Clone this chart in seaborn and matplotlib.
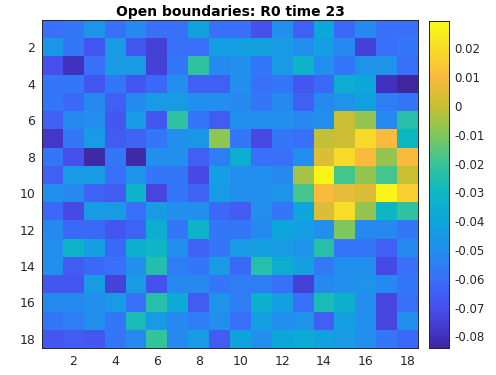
import numpy as np
import pandas as pd
import matplotlib
matplotlib.use("Agg")
import matplotlib.pyplot as plt
import seaborn as sns
from matplotlib.colors import LinearSegmentedColormap

title = "Open boundaries: R0 time 23"
rows = list(range(1, 19))
cols = list(range(1, 19))
tick_vals = [2, 4, 6, 8, 10, 12, 14, 16, 18]
cbar_ticks = [0.02, 0.01, 0.0, -0.01, -0.02, -0.03, -0.04, -0.05, -0.06, -0.07, -0.08]
vmin, vmax = -0.084, 0.0295

r01 = [-0.060, -0.058, -0.048, -0.060, -0.052, -0.060, -0.060, -0.042, -0.060, -0.060, -0.070, -0.050, -0.065, -0.040, -0.062, -0.052, -0.060, -0.060]
r02 = [-0.047, -0.058, -0.068, -0.045, -0.068, -0.075, -0.060, -0.060, -0.043, -0.043, -0.042, -0.045, -0.050, -0.043, -0.052, -0.075, -0.060, -0.058]
r03 = [-0.070, -0.080, -0.060, -0.045, -0.045, -0.075, -0.058, -0.022, -0.052, -0.050, -0.058, -0.045, -0.033, -0.050, -0.058, -0.048, -0.048, -0.060]
r04 = [-0.058, -0.058, -0.068, -0.058, -0.068, -0.062, -0.050, -0.065, -0.065, -0.050, -0.060, -0.058, -0.068, -0.062, -0.036, -0.040, -0.080, -0.085]
r05 = [-0.058, -0.062, -0.052, -0.065, -0.052, -0.045, -0.045, -0.050, -0.050, -0.052, -0.058, -0.052, -0.065, -0.052, -0.048, -0.042, -0.056, -0.058]
r06 = [-0.065, -0.052, -0.050, -0.068, -0.045, -0.068, -0.022, -0.058, -0.066, -0.050, -0.050, -0.050, -0.052, -0.050, 0.000, -0.007, -0.052, -0.024]
r07 = [-0.078, -0.058, -0.045, -0.066, -0.064, -0.058, -0.050, -0.046, -0.008, -0.058, -0.072, -0.058, -0.060, -0.001, 0.001, 0.019, 0.010, -0.030]
r08 = [-0.058, -0.070, -0.083, -0.058, -0.083, -0.050, -0.050, -0.065, -0.056, -0.036, -0.060, -0.060, -0.050, 0.004, 0.019, 0.010, -0.007, 0.010]
r09 = [-0.065, -0.045, -0.045, -0.060, -0.048, -0.058, -0.058, -0.072, -0.043, -0.050, -0.050, -0.052, -0.005, 0.028, -0.018, -0.007, -0.018, 0.000]
r10 = [-0.050, -0.052, -0.064, -0.066, -0.033, -0.073, -0.058, -0.064, -0.045, -0.050, -0.050, -0.048, -0.018, 0.010, 0.006, 0.004, 0.027, 0.016]
r11 = [-0.062, -0.072, -0.045, -0.045, -0.060, -0.045, -0.050, -0.050, -0.062, -0.066, -0.050, -0.058, -0.040, 0.004, 0.020, -0.007, -0.030, -0.022]
r12 = [-0.052, -0.062, -0.062, -0.068, -0.064, -0.036, -0.058, -0.033, -0.058, -0.058, -0.052, -0.040, -0.043, -0.050, -0.010, -0.052, -0.052, -0.058]
r13 = [-0.050, -0.033, -0.043, -0.062, -0.035, -0.031, -0.050, -0.064, -0.058, -0.045, -0.043, -0.045, -0.048, -0.024, -0.058, -0.058, -0.065, -0.052]
r14 = [-0.050, -0.066, -0.062, -0.060, -0.050, -0.025, -0.056, -0.058, -0.045, -0.062, -0.024, -0.036, -0.043, -0.057, -0.050, -0.050, -0.072, -0.060]
r15 = [-0.068, -0.068, -0.045, -0.074, -0.045, -0.070, -0.052, -0.052, -0.058, -0.056, -0.056, -0.060, -0.075, -0.052, -0.050, -0.048, -0.052, -0.058]
r16 = [-0.052, -0.052, -0.050, -0.045, -0.060, -0.024, -0.038, -0.066, -0.048, -0.056, -0.034, -0.043, -0.060, -0.027, -0.034, -0.050, -0.073, -0.060]
r17 = [-0.058, -0.056, -0.050, -0.058, -0.027, -0.045, -0.052, -0.056, -0.050, -0.060, -0.043, -0.050, -0.048, -0.065, -0.043, -0.050, -0.073, -0.050]
r18 = [-0.068, -0.066, -0.068, -0.058, -0.052, -0.021, -0.052, -0.045, -0.066, -0.041, -0.050, -0.040, -0.038, -0.042, -0.045, -0.050, -0.058, -0.062]

grid = [r01, r02, r03, r04, r05, r06, r07, r08, r09, r10, r11, r12, r13, r14, r15, r16, r17, r18]
df = pd.DataFrame(grid, index=rows, columns=cols)

parula_pos = [0.0, 0.035, 0.123, 0.211, 0.300, 0.388, 0.476, 0.564, 0.652, 0.740, 0.828, 0.916, 1.0]
parula_rgb = [
    (0.24, 0.15, 0.62),
    (0.26, 0.19, 0.75),
    (0.28, 0.31, 0.93),
    (0.22, 0.44, 0.98),
    (0.13, 0.56, 0.93),
    (0.05, 0.65, 0.86),
    (0.05, 0.72, 0.76),
    (0.22, 0.77, 0.60),
    (0.50, 0.78, 0.36),
    (0.78, 0.75, 0.20),
    (0.98, 0.73, 0.24),
    (0.97, 0.86, 0.16),
    (0.976, 0.983, 0.08),
]
parula = LinearSegmentedColormap.from_list("parula", list(zip(parula_pos, parula_rgb)))

sns.set_style("white")
plt.rcParams["font.family"] = ["DejaVu Sans"]
plt.rcParams["axes.unicode_minus"] = False

fig = plt.figure(figsize=(4.96, 3.75), dpi=100)
W, H = 496, 375
ax = fig.add_axes([42 / W, 1 - 348 / H, (418 - 42) / W, (348 - 20) / H])
cax = fig.add_axes([429 / W, 1 - 348 / H, 20 / W, (348 - 21) / H])

sns.heatmap(df, ax=ax, cmap=parula, vmin=vmin, vmax=vmax, cbar_ax=cax,
            xticklabels=False, yticklabels=False)

dark = "#262626"
ax.set_xticks([v - 0.5 for v in tick_vals])
ax.set_xticklabels([str(v) for v in tick_vals])
ax.set_yticks([v - 0.5 for v in tick_vals])
ax.set_yticklabels([str(v) for v in tick_vals], rotation=0)
ax.tick_params(axis="both", direction="in", length=3, width=0.6, colors=dark,
               labelsize=9, top=True, right=True, pad=5)
ax.set_xlabel("")
ax.set_ylabel("")
for s in ax.spines.values():
    s.set_visible(True)
    s.set_color(dark)
    s.set_linewidth(0.7)
ax.set_title(title, fontsize=10, fontweight="bold", pad=3, color="black")

cax.set_yticks(cbar_ticks)
cax.set_yticklabels([("%g" % t) for t in cbar_ticks])
cax.tick_params(direction="in", length=3, width=0.6, colors=dark, labelsize=8.5, pad=4)
for s in cax.spines.values():
    s.set_visible(True)
    s.set_color(dark)
    s.set_linewidth(0.7)

fig.savefig("out.png", dpi=100)
